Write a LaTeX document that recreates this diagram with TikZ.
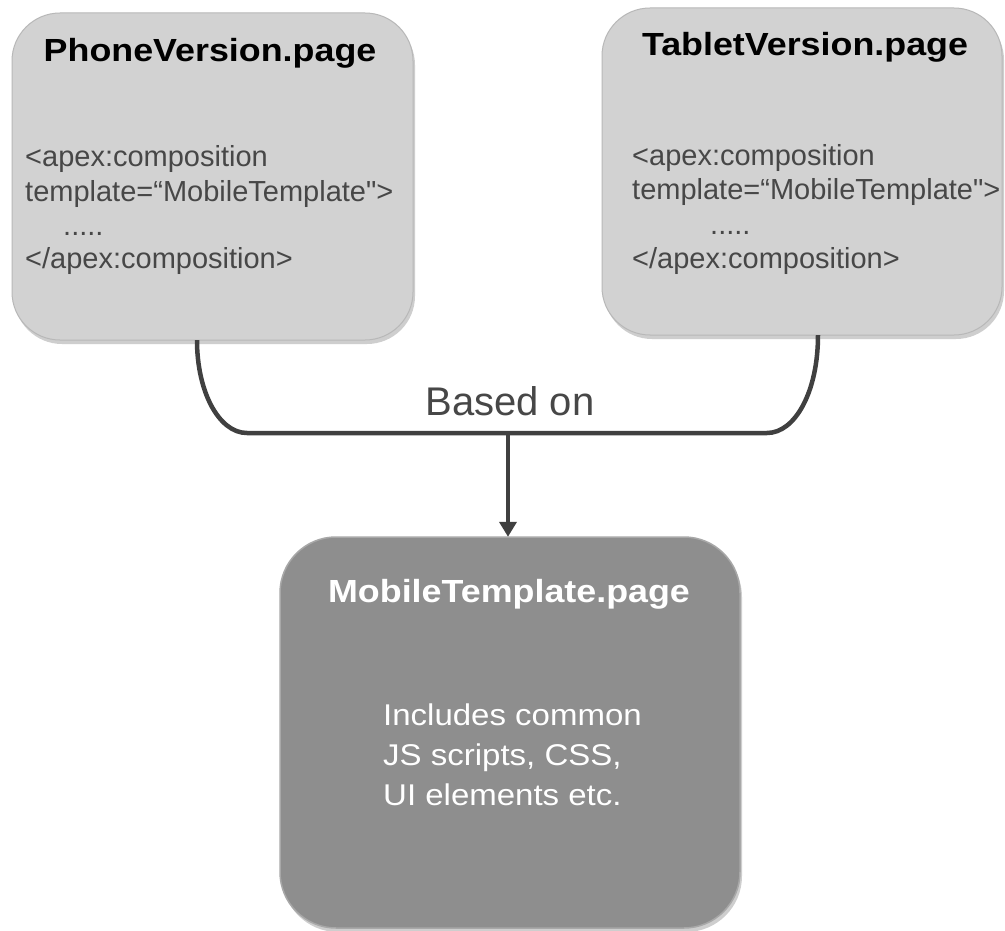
\documentclass[tikz,border=0pt]{standalone}
\usepackage{fontspec}
\setmainfont{Liberation Sans}[Ligatures=TeXOff]
\newfontfamily\widefont{Liberation Sans}[Ligatures=TeXOff, FakeStretch=1.12]
\newfontfamily\bodyfont{Liberation Sans}[Ligatures=TeXOff, FakeStretch=1.1]
\usetikzlibrary{arrows.meta,shadows}
\definecolor{lightbox}{HTML}{D2D2D2}
\definecolor{lightedge}{HTML}{B8B8B8}
\definecolor{darkbox}{HTML}{8E8E8E}
\definecolor{darkedge}{HTML}{A8A8A8}
\definecolor{codegray}{HTML}{474747}
\definecolor{linegray}{HTML}{404040}
\tikzset{
  pagebox/.style={rounded corners=48pt, fill=lightbox, draw=lightedge, line width=1pt,
    drop shadow={shadow xshift=2pt, shadow yshift=-4pt, opacity=0.35, fill=black!55}},
  tmplbox/.style={rounded corners=56pt, fill=darkbox, draw=darkedge, line width=1.5pt,
    drop shadow={shadow xshift=2pt, shadow yshift=-4pt, opacity=0.35, fill=black!55}},
  titletext/.style={font=\widefont\fontsize{32}{38}\selectfont\bfseries, text=black, inner sep=0pt},
  codetext/.style={font=\fontsize{29}{34}\selectfont, text=codegray, inner sep=0pt, anchor=base west},
  bodytext/.style={font=\bodyfont\fontsize{30}{40}\selectfont, text=white, inner sep=0pt, anchor=base west},
  conn/.style={draw=linegray, line width=4.5pt},
}
\begin{document}
\begin{tikzpicture}[x=1pt,y=-1pt]
\useasboundingbox[fill=white] (0,0) rectangle (1005,931);
% boxes
\path[pagebox] (12,13) rectangle (413,340);
\node[minimum width=401pt, minimum height=327pt, inner sep=0pt] (phone) at (212.5,176.5) {};
\path[pagebox] (602,8) rectangle (1002,335);
\node[minimum width=400pt, minimum height=327pt, inner sep=0pt] (tablet) at (802,171.5) {};
\path[tmplbox] (280,537) rectangle (740,928);
\node[minimum width=460pt, minimum height=391pt, inner sep=0pt] (mobile) at (510,732.5) {};
% phone texts
\node[titletext, anchor=base] (phonetitle) at (210,62) {PhoneVersion.page};
\node[codetext] (p1) at (25,167) {<apex:composition};
\node[codetext] (p2) at (25,202) {template=“MobileTemplate">};
\node[codetext] (p3) at (63,236) {.....};
\node[codetext] (p4) at (25,269) {</apex:composition>};
% tablet texts
\node[titletext, anchor=base] (tablettitle) at (805,56) {TabletVersion.page};
\node[codetext] (t1) at (632,166) {<apex:composition};
\node[codetext] (t2) at (632,200) {template=“MobileTemplate">};
\node[codetext] (t3) at (710,235) {.....};
\node[codetext] (t4) at (632,268) {</apex:composition>};
% mobile texts
\node[titletext, text=white, anchor=base] (mobiletitle) at (509,602) {MobileTemplate.page};
\node[bodytext] (m1) at (383,725) {Includes common};
\node[bodytext] (m2) at (383,765) {JS scripts, CSS,};
\node[bodytext] (m3) at (383,805) {UI elements etc.};
% connector
\coordinate (pl) at (phone.south -| 197,0);
\coordinate (tr) at (tablet.south -| 818,0);
\coordinate (mid) at (508,433);
\draw[conn] (pl) .. controls (197,392) and (219,433) .. (247,433)
  -- (767,433) .. controls (795,433) and (818,392) .. (tr);
\draw[conn, -{Triangle[width=17pt,length=15pt]}] (mid) -- (mid |- mobile.north);
\node[font=\fontsize{40}{46}\selectfont, text=codegray, anchor=base, inner sep=0pt] (based) at (510,415) {Based on};
\end{tikzpicture}
\end{document}
